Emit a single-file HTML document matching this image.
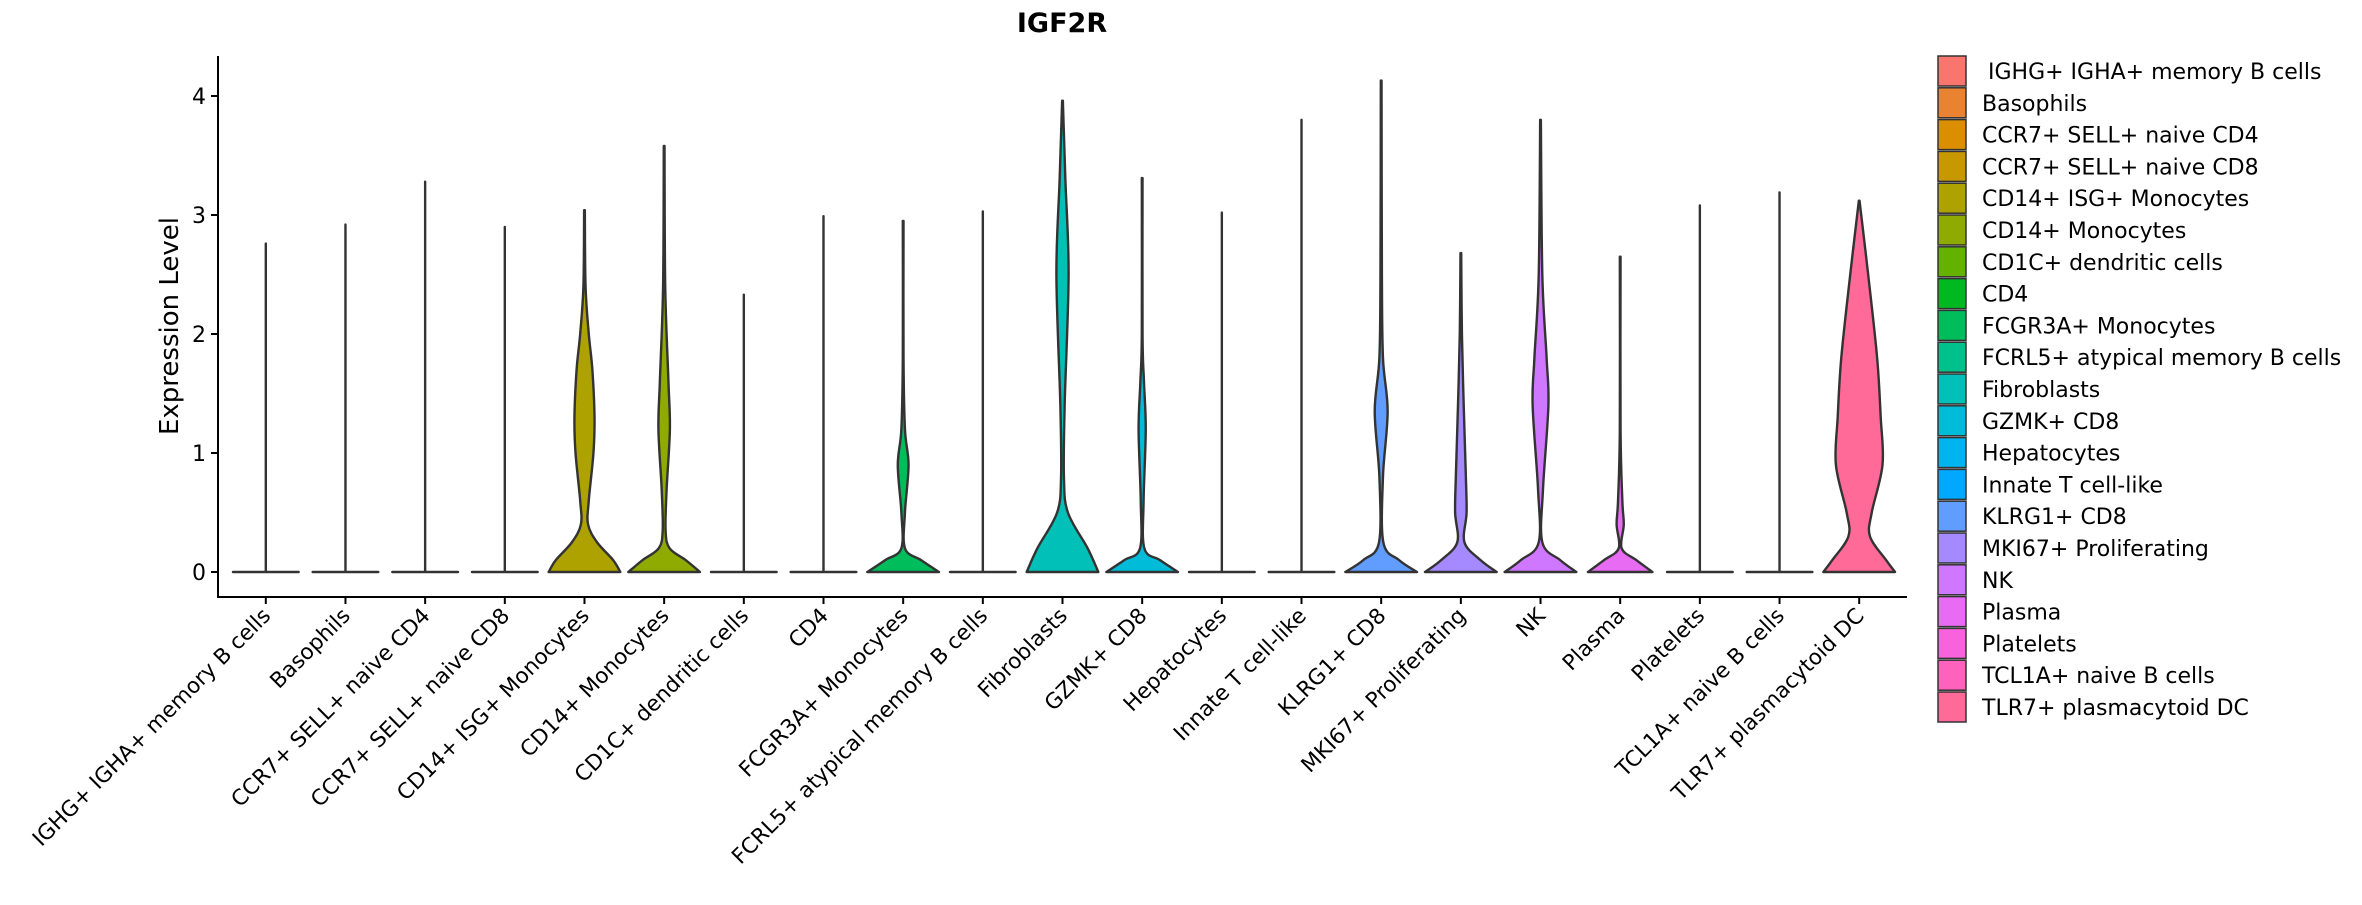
<!DOCTYPE html>
<html><head><meta charset="utf-8"><style>
html,body{margin:0;padding:0;background:#fff}
svg text{font-family:"DejaVu Sans","Liberation Sans",sans-serif;fill:#000}
</style></head><body>
<svg id="chart" width="2362" height="900" viewBox="0 0 2362 900" xmlns="http://www.w3.org/2000/svg">
<text x="1062" y="32" text-anchor="middle" font-size="27" font-weight="bold">IGF2R</text>
<text transform="translate(178,326) rotate(-90)" text-anchor="middle" font-size="26">Expression Level</text>
<g id="plot"></g>
<g id="legend"></g>
</svg>
<script>
const categories = ["IGHG+ IGHA+ memory B cells","Basophils","CCR7+ SELL+ naive CD4","CCR7+ SELL+ naive CD8","CD14+ ISG+ Monocytes","CD14+ Monocytes","CD1C+ dendritic cells","CD4","FCGR3A+ Monocytes","FCRL5+ atypical memory B cells","Fibroblasts","GZMK+ CD8","Hepatocytes","Innate T cell-like","KLRG1+ CD8","MKI67+ Proliferating","NK","Plasma","Platelets","TCL1A+ naive B cells","TLR7+ plasmacytoid DC"];
const maxValues = [2.76,2.92,3.28,2.9,3.04,3.58,2.33,2.99,2.95,3.03,3.96,3.31,3.02,3.8,4.13,2.68,3.8,2.65,3.08,3.19,3.12];
const colors = ["#F8766D","#EA8331","#DB8E00","#C79800","#AEA200","#8FAA00","#64B200","#00B81F","#00BD5C","#00C08B","#00C0B8","#00BCD8","#00B4EF","#00A9FF","#619CFF","#A58AFF","#CF78FF","#E76BF3","#F962DD","#FF62BC","#FF6A98"];
const densityProfiles = {
  4: [[0,1],[0.1,0.8],[0.25,0.35],[0.4,0.1],[0.6,0.12],[1.0,0.25],[1.3,0.28],[1.7,0.22],[2.0,0.12],[2.4,0.03],[3.04,0.01]],
  5: [[0,1],[0.1,0.6],[0.2,0.15],[0.35,0.04],[0.7,0.07],[1.2,0.16],[1.6,0.12],[2.4,0.03],[3.58,0.01]],
  8: [[0,1],[0.1,0.5],[0.2,0.05],[0.5,0.05],[0.9,0.15],[1.2,0.05],[1.8,0.01],[2.95,0.01]],
  10: [[0,1],[0.2,0.7],[0.5,0.15],[0.8,0.04],[1.4,0.06],[2.5,0.17],[3.3,0.08],[3.96,0.01]],
  11: [[0,1],[0.1,0.5],[0.2,0.06],[0.6,0.04],[1.2,0.1],[1.6,0.05],[2.0,0.01],[3.31,0.01]],
  14: [[0,1],[0.1,0.5],[0.25,0.06],[0.8,0.05],[1.35,0.18],[1.8,0.05],[2.5,0.02],[4.13,0.01]],
  15: [[0,1],[0.1,0.55],[0.25,0.1],[0.5,0.16],[0.8,0.14],[1.4,0.08],[2.0,0.03],[2.68,0.01]],
  16: [[0,1],[0.1,0.55],[0.25,0.05],[0.7,0.07],[1.4,0.22],[1.8,0.17],[2.5,0.05],[3.8,0.01]],
  17: [[0,0.9],[0.1,0.45],[0.2,0.04],[0.4,0.1],[0.6,0.06],[1.2,0.01],[2.65,0.01]],
  20: [[0,1],[0.1,0.75],[0.3,0.3],[0.5,0.35],[0.9,0.65],[1.3,0.6],[1.8,0.5],[2.5,0.25],[3.12,0.01]]
};
const yTicks = [0,1,2,3,4];

const NS = "http://www.w3.org/2000/svg";
const X0 = 218, X1 = 1907, YT = 56, YB = 597;
const step = (X1 - X0) / (categories.length - 1 + 1.2);
function xScale(i){ return X0 + step * (0.6 + i); }
function yScale(v){ return 572 - v * 119; }
const HALF = step * 0.45;
function mk(tag, attrs, parent){ const e = document.createElementNS(NS, tag); for (const k in attrs) e.setAttribute(k, attrs[k]); parent.appendChild(e); return e; }
const plot = document.getElementById('plot');

const ax = mk('path', {d:`M${X0},${YT}V${YB}H${X1}`, fill:'none', stroke:'#000', 'stroke-width':2}, plot);


yTicks.forEach(t => {
  const y = yScale(t);
  const tk = mk('line', {x1:X0-7, x2:X0, y1:y, y2:y, stroke:'#000', 'stroke-width':2}, plot);
  
  
  const tl = mk('text', {x:X0-12, y:y+8, 'text-anchor':'end', 'font-size':22}, plot);
  
  
  tl.textContent = t;
});

function smoothPath(pts){
  let d = `M${pts[0][0]},${pts[0][1]}`;
  for (let i = 0; i < pts.length - 1; i++){
    const p0 = pts[Math.max(0,i-1)], p1 = pts[i], p2 = pts[i+1], p3 = pts[Math.min(pts.length-1,i+2)];
    const c1 = [p1[0]+(p2[0]-p0[0])/6, p1[1]+(p2[1]-p0[1])/6];
    const c2 = [p2[0]-(p3[0]-p1[0])/6, p2[1]-(p3[1]-p1[1])/6];
    d += `C${c1[0]},${c1[1]} ${c2[0]},${c2[1]} ${p2[0]},${p2[1]}`;
  }
  return d;
}

categories.forEach((c, i) => {
  const cx = xScale(i);
  const prof = densityProfiles[i];
  if (prof){
    const right = prof.map(p => [cx + HALF * p[1], yScale(p[0])]);
    right[right.length-1][1] = yScale(maxValues[i]);
    const left = prof.slice().reverse().map(p => [cx - HALF * p[1], yScale(p[0])]);
    left[0][1] = yScale(maxValues[i]);
    let d = smoothPath(right) + `L${left[0][0]},${left[0][1]}` + smoothPath(left).replace(/^M[^C]*/, '') + 'Z';
    const v = mk('path', {d, fill:colors[i], stroke:'#333', 'stroke-width':2.4, 'stroke-linejoin':'round'}, plot);
    
    
  } else {
    const h = HALF - 3;
    const v = mk('path', {d:`M${cx-h},${yScale(0)}H${cx+h}M${cx},${yScale(0)}V${yScale(maxValues[i])}`, fill:'none', stroke:'#333', 'stroke-width':2.4, 'stroke-linecap':'round'}, plot);
    
    
  }
  const tk = mk('line', {x1:cx, x2:cx, y1:YB, y2:YB+7, stroke:'#000', 'stroke-width':2}, plot);
  
  
  const tl = mk('text', {transform:`translate(${cx+6},${YB+20}) rotate(-45)`, 'text-anchor':'end', 'font-size':21.5}, plot);
  
  
  tl.textContent = c;
});

const legend = document.getElementById('legend');
categories.forEach((c, i) => {
  const y = 55 + i * 31.8;
  const r = mk('rect', {x:1938, y:y+1, width:28, height:30, fill:colors[i], stroke:'#333', 'stroke-width':1.5}, legend);
  
  
  const t = mk('text', {x:i===0?1988:1982, y:y+24, 'font-size':22}, legend);
  
  
  t.textContent = c;
});
</script>
</body></html>
